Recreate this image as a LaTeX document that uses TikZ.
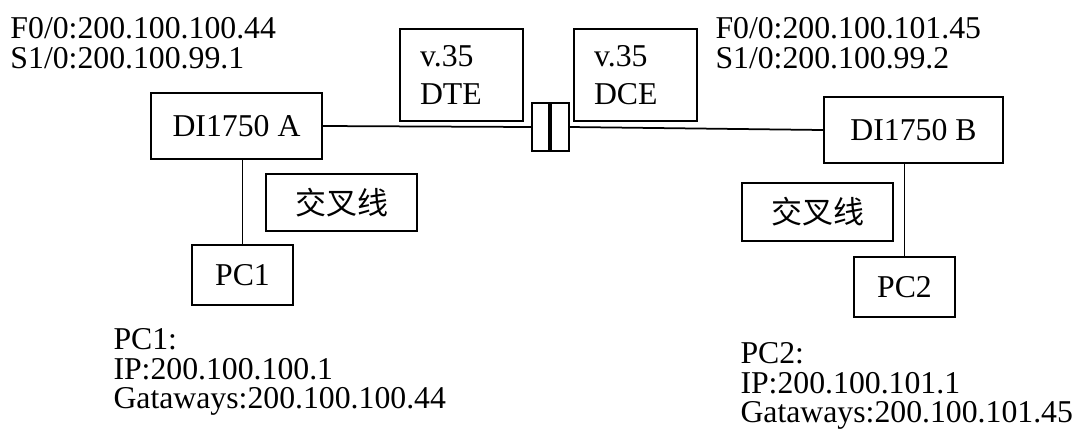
\documentclass[tikz,border=0pt]{standalone}
\usepackage{fontspec}
\setmainfont{Liberation Serif}
\newfontfamily\cjk{Noto Sans CJK SC}
\usepackage{tikz}
\usetikzlibrary{positioning, calc}

\begin{document}
\begin{tikzpicture}[
    x=0.4pt, y=-0.4pt,
    devbox/.style={rectangle, draw, line width=0.7pt, inner sep=0pt, align=center, font=\fontsize{12.7}{11.8}\selectfont},
    portbox/.style={rectangle, draw, line width=0.7pt, inner xsep=8pt, inner ysep=0pt, text width=33.2pt, minimum height=36.8pt, align=left, font=\fontsize{12.7}{15.2}\selectfont},
    cablebox/.style={rectangle, draw, line width=0.7pt, inner sep=0pt, minimum width=60.4pt, minimum height=22.8pt, font=\cjk\fontsize{12.4}{12.4}\selectfont},
    plug/.style={rectangle, draw, line width=0.7pt, inner sep=0pt, minimum height=19.2pt},
    addr/.style={anchor=north west, inner sep=0pt, align=left, font=\fontsize{12.7}{11.8}\selectfont},
    wire/.style={line width=0.7pt}
]
    \useasboundingbox (0,0) rectangle (1077,441);

    % --- Routers ---
    \node[devbox, minimum width=68.4pt, minimum height=26.4pt] (routerA) at (236.5,126) {DI1750 A};
    \node[devbox, minimum width=71.6pt, minimum height=26.4pt] (routerB) at (913.5,130) {DI1750 B};

    % --- Serial connector ---
    \node[plug, minimum width=6.8pt] (plugA) at (540.5,127) {};
    \node[plug, minimum width=7.2pt, right=0pt of plugA] (plugB) {};

    % --- v.35 cable ends ---
    \node[portbox] (dte) at (461.5,75) {v.35\\DTE};
    \node[portbox] (dce) at (635.5,75) {v.35\\DCE};

    % --- PCs ---
    \node[devbox, minimum width=40.4pt, minimum height=24pt] (pc1) at (242.5,275) {PC1};
    \node[devbox, minimum width=40.4pt, minimum height=24pt] (pc2) at (904.5,287) {PC2};

    % --- Crossover cable tags ---
    \node[cablebox] (crossA) at (341.5,202.5) {交叉线};
    \node[cablebox, minimum height=23.2pt] (crossB) at (817.5,212) {交叉线};

    % --- Addresses ---
    \node[addr] (addrA) at (10,17) {F0/0:200.100.100.44\\S1/0:200.100.99.1};
    \node[addr] (addrB) at (715,17) {F0/0:200.100.101.45\\S1/0:200.100.99.2};
    \node[addr] (addrPC1) at (113,328) {PC1:\\IP:200.100.100.1\\Gataways:200.100.100.44};
    \node[addr] (addrPC2) at (740,342) {PC2:\\IP:200.100.101.1\\Gataways:200.100.101.45};

    % --- Connections ---
    \draw[wire] (routerA.east) -- (plugA.west);
    \draw[wire] (plugB.east) -- (routerB.west);
    \draw[wire] (routerA.south -| pc1.north) -- (pc1.north);
    \draw[wire] (routerB.south -| pc2.north) -- (pc2.north);

\end{tikzpicture}
\end{document}
